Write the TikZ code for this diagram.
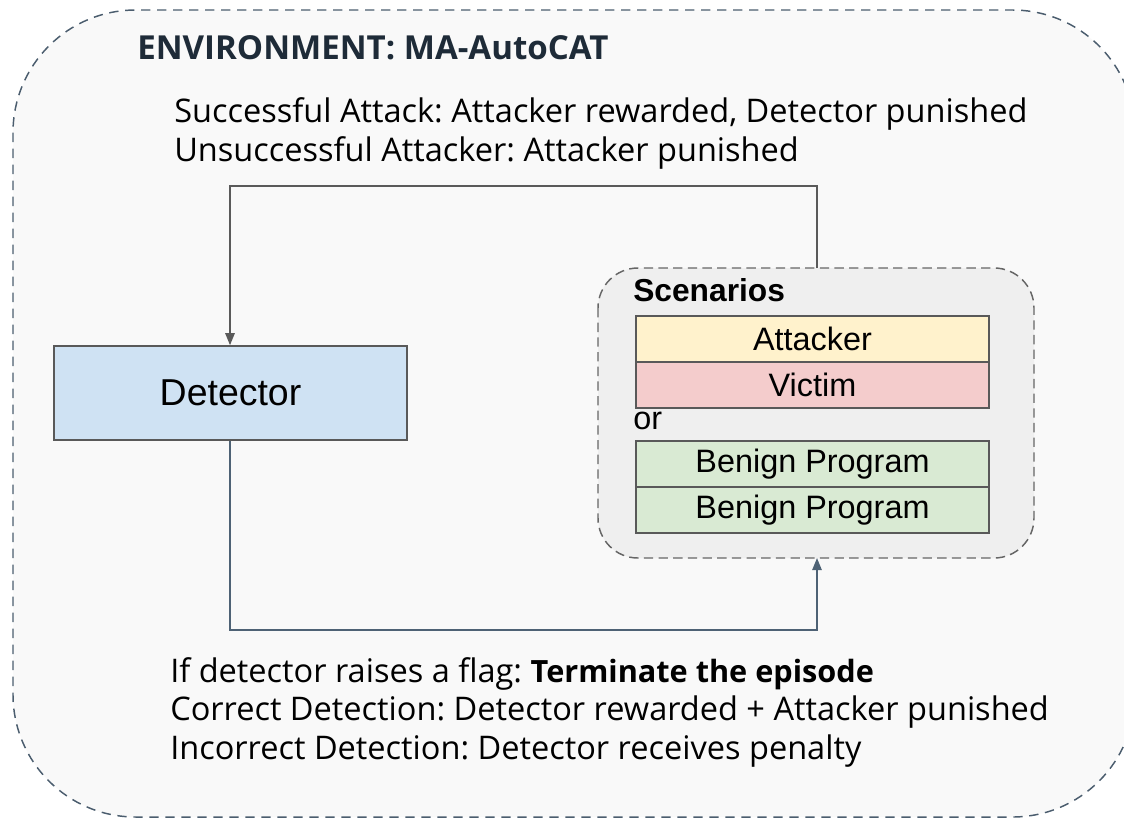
\documentclass[tikz,border=0pt]{standalone}
\usepackage{fontspec}
\setmainfont{Open Sans}
\newfontfamily\arialf{Liberation Sans}
\usetikzlibrary{arrows.meta}
\frenchspacing
\definecolor{envborder}{HTML}{4B5D6E}
\definecolor{envfill}{HTML}{F9F9F9}
\definecolor{titlecol}{HTML}{1E2B38}
\definecolor{scfill}{HTML}{EFEFEF}
\definecolor{scborder}{HTML}{666666}
\definecolor{detfill}{HTML}{CFE2F3}
\definecolor{attfill}{HTML}{FFF2CC}
\definecolor{vicfill}{HTML}{F4CCCC}
\definecolor{benfill}{HTML}{D9EAD3}
\definecolor{boxborder}{HTML}{595959}
\definecolor{toparrow}{HTML}{5A5A5A}
\definecolor{botarrow}{HTML}{4E6275}
\tikzset{
  bodytext/.style={anchor=west, inner sep=0pt, font=\fontsize{24.4}{28}\selectfont, text=black},
  rolebox/.style={draw=boxborder, line width=1.2pt, minimum width=353*0.75pt, minimum height=46*0.75pt, inner sep=0pt, font=\arialf\fontsize{24.3}{26}\selectfont},
  flow/.style={line width=1.2pt, -{Triangle[length=9pt,width=7pt]}},
}
\begin{document}
\begin{tikzpicture}[x=0.75pt,y=-0.75pt]
\useasboundingbox (0,0) rectangle (1124,819);
% outer environment
\draw[envborder, fill=envfill, dashed, dash pattern=on 7pt off 5pt, line width=1.1pt, rounded corners=92pt] (13,10) rectangle (1135,817);
\node[anchor=west, inner sep=0pt, text=titlecol, font=\bfseries\fontsize{24.8}{28}\selectfont] (title) at (137,48) {ENVIRONMENT: MA-AutoCAT};
\node[bodytext] (l1) at (174,114) {Successful Attack: Attacker rewarded, Detector punished};
\node[bodytext] (l2) at (174,153) {Unsuccessful Attacker: Attacker punished};
% scenarios
\draw[scborder, fill=scfill, dashed, dash pattern=on 7pt off 4pt, line width=1.1pt, rounded corners=30pt] (598,268) rectangle (1034,558);
\node[anchor=west, inner sep=0pt, font=\arialf\bfseries\fontsize{23.8}{26}\selectfont] (sc) at (633,290) {Scenarios};
\node[rolebox, fill=attfill] (att) at (812.5,339) {Attacker};
\node[rolebox, fill=vicfill] (vic) at (812.5,385) {Victim};
\node[anchor=west, inner sep=0pt, font=\arialf\fontsize{24.3}{26}\selectfont] (or) at (633,421) {or};
\node[rolebox, fill=benfill] (ben1) at (812.5,464) {Benign Program};
\node[rolebox, fill=benfill] (ben2) at (812.5,510) {Benign Program};
\coordinate (sctop) at (817,268);
\coordinate (scbot) at (817,558);
% detector
\node[draw=boxborder, fill=detfill, line width=1.2pt, minimum width=353*0.75pt, minimum height=94*0.75pt, font=\arialf\fontsize{28.1}{30}\selectfont] (det) at (230.5,393) {Detector};
% arrows
\draw[flow, toparrow] (sctop) -- (817,186) -- (230,186) -- (det.north -| 230,0);
\draw[flow, botarrow] (det.south -| 230,0) -- (230,630) -- (817,630) -- (scbot);
% bottom text
\node[bodytext] (b1) at (170,674) {If detector raises a flag: {\bfseries\fontsize{23}{28}\selectfont Terminate the episode}};
\node[bodytext] (b2) at (170,712) {Correct Detection: Detector rewarded + Attacker punished};
\node[bodytext] (b3) at (170,751) {Incorrect Detection: Detector receives penalty};
\end{tikzpicture}
\end{document}
